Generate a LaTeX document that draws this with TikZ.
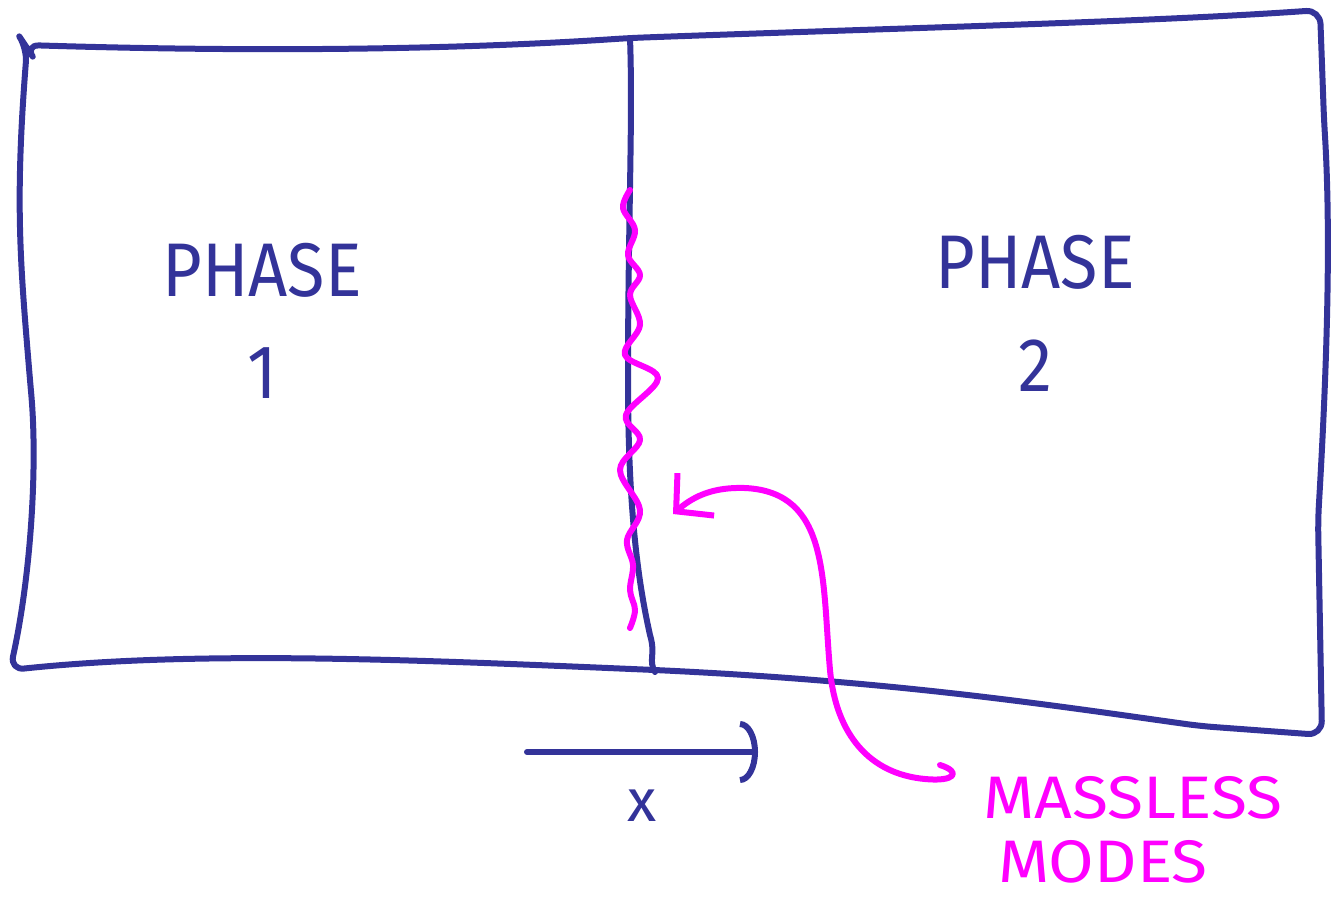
\documentclass[tikz,border=0pt]{standalone}
\usepackage{fontspec}
\setmainfont{Fira Sans}
\usetikzlibrary{arrows.meta, positioning}
\definecolor{inkblue}{RGB}{51, 51, 153}
\definecolor{inkpink}{RGB}{255, 0, 255}

\begin{document}
\begin{tikzpicture}[
    x=1pt, y=-1pt,
    pen/.style={inkblue, line width=6pt, line cap=round, line join=round},
    pinkpen/.style={inkpink, line width=6pt, line cap=round, line join=round},
    phase/.style={inkblue, font=\fontsize{76}{80}\selectfont, inner sep=0pt, xscale=0.9},
    modes/.style={inkpink, font=\fontsize{60}{64}\selectfont, inner sep=0pt, xscale=1.1}
]
    \useasboundingbox (0,0) rectangle (1340,897);

    % Outer box
    \draw[pen, rounded corners=14pt] (25,45) .. controls (250,52) and (450,50) .. (630,38)
        .. controls (900,28) and (1150,22) .. (1320,10)
        -- (1324,120) .. controls (1332,250) and (1325,400) .. (1318,520)
        -- (1322,735) -- (1200,726)
        .. controls (1050,705) and (900,682) .. (655,670)
        .. controls (420,660) and (200,650) .. (10,670)
        .. controls (30,580) and (38,470) .. (30,380)
        .. controls (20,260) and (15,200) .. (27,48) -- cycle;

    % Interface between the phases
    \draw[pen] (630,38) .. controls (633,120) and (628,220) .. (628,380)
        .. controls (628,520) and (640,590) .. (650,635)
        .. controls (656,655) and (648,660) .. (655,672);

    % Massless modes on the wall
    \draw[pinkpen] plot[smooth, tension=0.6] coordinates {
        (630,190) (623,208) (635,230) (628,255) (640,275) (630,295)
        (640,325) (625,355) (658,378) (626,415) (640,440) (620,470)
        (640,510) (627,540) (633,565) (630,590) (635,610) (630,628)};

    % Labels
    \node[phase] (phaseA) at (262,270) {PHASE};
    \node[phase, below=50pt of phaseA.south] (numA) {1};
    \node[phase] (phaseB) at (1035,262) {PHASE};
    \node[phase, below=50pt of phaseB.south] (numB) {2};

    \node[modes, anchor=west] (massless) at (983,798) {MASSLESS};
    \node[modes, anchor=west] (modesB) at (998,862) {MODES};

    % x axis
    \coordinate (axisL) at (527,752);
    \coordinate (axisR) at (758,752);
    \draw[pen, -{Arc Barb[length=18pt, width=62pt]}] (axisL) -- (axisR);
    \node[inkblue, font=\fontsize{60}{64}\selectfont, inner sep=0pt] (xlabel) at (642,806) {x};

    % Pointer to the wall
    \coordinate (wallpt) at (673,514);
    \draw[pinkpen, -{Straight Barb[length=26pt, width=56pt]}]
        (940,765) .. controls (962,772) and (955,782) .. (925,779)
        .. controls (870,774) and (836,735) .. (830,670)
        .. controls (822,580) and (830,492) .. (745,488)
        .. controls (715,487) and (695,495) .. (wallpt);
\end{tikzpicture}
\end{document}
